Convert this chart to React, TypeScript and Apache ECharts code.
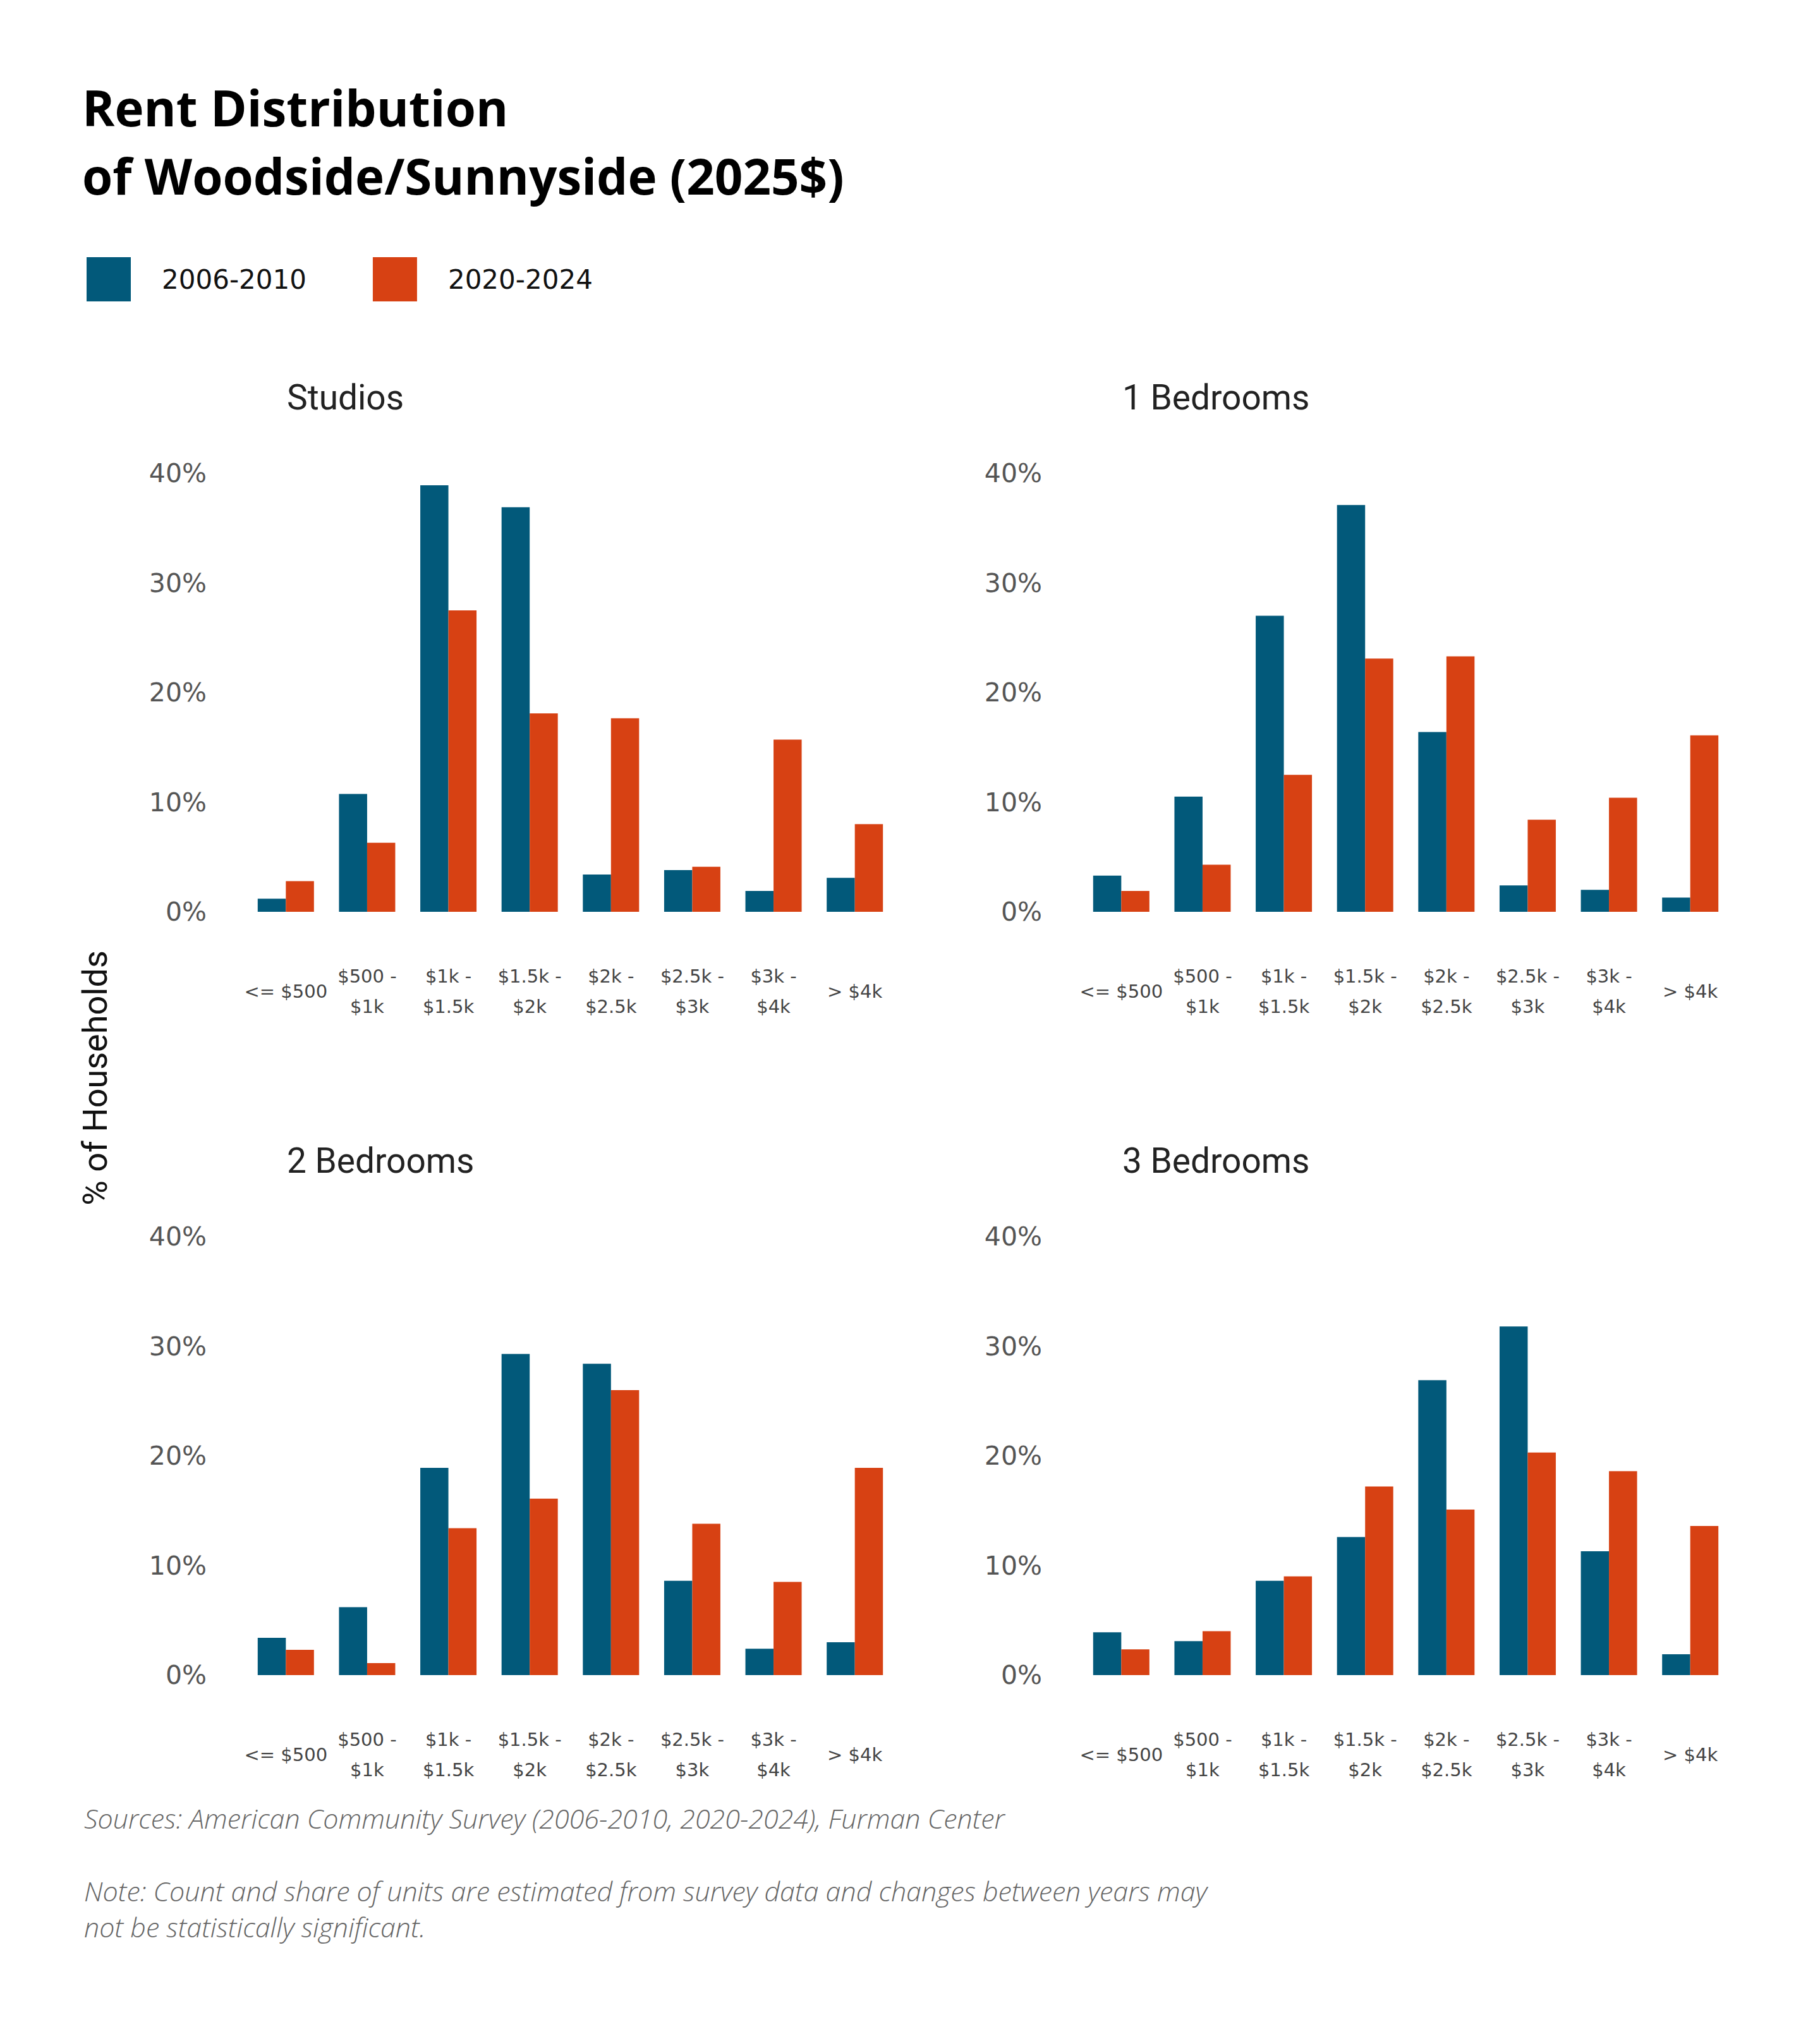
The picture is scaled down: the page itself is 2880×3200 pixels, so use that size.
import React, { useEffect, useRef } from 'react'
import * as echarts from 'echarts'

const categories = ['<= $500', '$500 -\n$1k', '$1k -\n$1.5k', '$1.5k -\n$2k', '$2k -\n$2.5k', '$2.5k -\n$3k', '$3k -\n$4k', '> $4k']
const seriesNames = ['2006-2010', '2020-2024']
const panelTitles = ['Studios', '1 Bedrooms', '2 Bedrooms', '3 Bedrooms']

const studios2006 = [1.2, 10.75, 38.9, 36.9, 3.4, 3.8, 1.9, 3.1]
const studios2020 = [2.8, 6.3, 27.5, 18.1, 17.65, 4.1, 15.7, 8.0]
const oneBed2006 = [3.3, 10.5, 27.0, 37.1, 16.4, 2.4, 2.0, 1.3]
const oneBed2020 = [1.9, 4.3, 12.5, 23.1, 23.3, 8.4, 10.4, 16.1]
const twoBed2006 = [3.4, 6.2, 18.9, 29.3, 28.4, 8.6, 2.4, 3.0]
const twoBed2020 = [2.3, 1.1, 13.4, 16.1, 26.0, 13.8, 8.5, 18.9]
const threeBed2006 = [3.9, 3.1, 8.6, 12.6, 26.9, 31.8, 11.3, 1.9]
const threeBed2020 = [2.35, 4.0, 9.0, 17.2, 15.1, 20.3, 18.6, 13.6]

const panelData = [
    [studios2006, studios2020],
    [oneBed2006, oneBed2020],
    [twoBed2006, twoBed2020],
    [threeBed2006, threeBed2020],
]

const colors = ['#02597a', '#d74113']
const font = 'Roboto, "Noto Sans", sans-serif'
const wideFont = '"DejaVu Sans", Roboto, sans-serif'
const openFont = '"Open Sans", Roboto, sans-serif'

// panel layout: [left, top] of each grid
const gridPos = [[388, 749], [1710, 749], [388, 1957], [1710, 1957]]
const gridW = 1029
const gridH = 694

export default function App() {
    const chartRef = useRef(null)

    useEffect(() => {
        const chart = echarts.init(chartRef.current, null, { renderer: 'svg' })

        const titles: any[] = [
            {
                text: 'Rent Distribution\nof Woodside/Sunnyside (2025$)',
                left: 130,
                top: 116,
                padding: 0,
                textStyle: { fontFamily: openFont, fontSize: 78, fontWeight: 'bold', lineHeight: 108, color: '#000' },
            },
            {
                text: 'Sources: American Community Survey (2006-2010, 2020-2024), Furman Center',
                left: 133,
                top: 2852,
                padding: 0,
                textStyle: { fontFamily: openFont, fontSize: 43, fontStyle: 'italic', fontWeight: 300, lineHeight: 50, color: '#666' },
            },
            {
                text: 'Note: Count and share of units are estimated from survey data and changes between years may\nnot be statistically significant.',
                left: 133,
                top: 2964,
                padding: 0,
                textStyle: { fontFamily: openFont, fontSize: 43, fontStyle: 'italic', fontWeight: 300, lineHeight: 57, color: '#666' },
            },
        ]
        panelTitles.forEach((t, i) => {
            titles.push({
                text: t,
                left: gridPos[i][0] + 66,
                top: gridPos[i][1] - 152,
                padding: 0,
                textStyle: { fontFamily: font, fontSize: 55, fontWeight: 'normal', lineHeight: 64, color: '#222' },
            })
        })

        const series: any[] = []
        panelData.forEach((pair, i) => {
            pair.forEach((values, j) => {
                series.push({
                    type: 'bar',
                    name: seriesNames[j],
                    xAxisIndex: i,
                    yAxisIndex: i,
                    data: values,
                    itemStyle: { color: colors[j] },
                    barGap: '0%',
                    barCategoryGap: '30.8%',
                    emphasis: { disabled: true },
                })
            })
        })

        chart.setOption({
            animation: false,
            backgroundColor: '#fff',
            title: titles,
            legend: {
                left: 137,
                top: 407,
                padding: 0,
                icon: 'rect',
                itemWidth: 70,
                itemHeight: 70,
                itemGap: 105,
                selectedMode: false,
                data: seriesNames,
                formatter: (name: string) => `{n|${name}}`,
                textStyle: {
                    padding: [0, 0, 0, 44],
                    rich: {
                        n: { width: 240, fontFamily: wideFont, fontSize: 42, color: '#111' },
                    },
                },
            },
            grid: gridPos.map(([left, top]) => ({ left, top, width: gridW, height: gridH })),
            xAxis: gridPos.map((_, i) => ({
                type: 'category',
                gridIndex: i,
                data: categories,
                axisLine: { show: false },
                axisTick: { show: false },
                axisLabel: {
                    interval: 0,
                    margin: 126,
                    verticalAlign: 'middle',
                    fontFamily: wideFont,
                    fontSize: 29,
                    lineHeight: 48,
                    color: '#444',
                },
            })),
            yAxis: gridPos.map((_, i) => ({
                type: 'value',
                gridIndex: i,
                min: 0,
                max: 40,
                interval: 10,
                splitLine: { show: false },
                axisLine: { show: false },
                axisTick: { show: false },
                axisLabel: {
                    formatter: '{value}%',
                    margin: 61,
                    fontFamily: wideFont,
                    fontSize: 41,
                    color: '#555',
                },
            })),
            graphic: [
                {
                    type: 'text',
                    x: 150,
                    y: 1706,
                    rotation: Math.PI / 2,
                    style: {
                        text: '% of Households',
                        fontFamily: font,
                        fontSize: 54,
                        fill: '#111',
                        align: 'center',
                        verticalAlign: 'middle',
                    },
                },
            ],
            series,
        })
        return () => chart.dispose()
    }, [])

    return <div ref={chartRef} style={{ position: 'absolute', left: 0, top: 0, width: 2880, height: 3200 }} />
}
